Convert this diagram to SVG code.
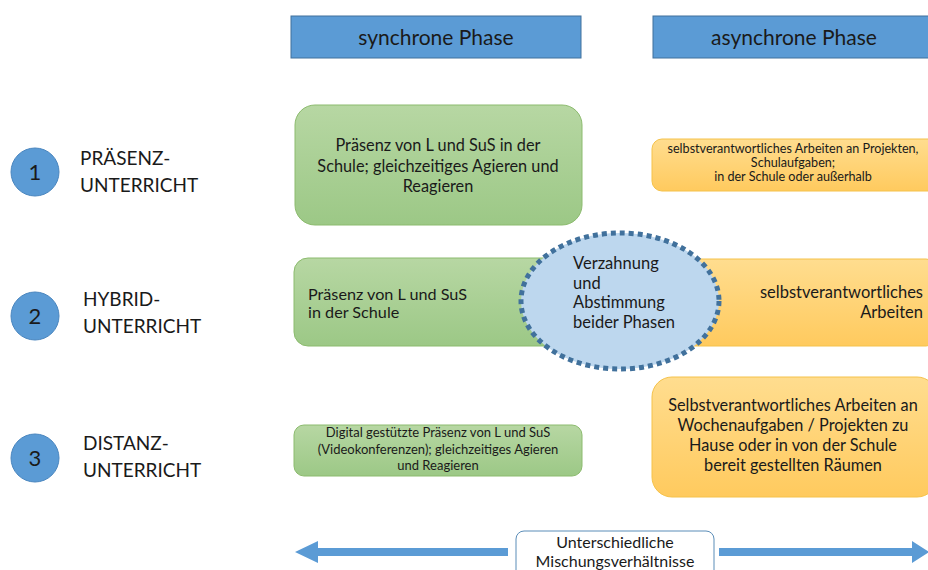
<svg xmlns="http://www.w3.org/2000/svg" width="928" height="570" viewBox="0 0 928 570">
<defs>
<linearGradient id="gG" x1="0" y1="0" x2="0" y2="1"><stop offset="0" stop-color="#B7D7A3"/><stop offset="1" stop-color="#9CC886"/></linearGradient>
<linearGradient id="gO" x1="0" y1="0" x2="0" y2="1"><stop offset="0" stop-color="#FFDD8F"/><stop offset="1" stop-color="#FFCA5E"/></linearGradient>
<style>
text{font-family:Lato,"Open Sans","Liberation Sans",sans-serif;fill:#1a1a1a}
.hdr{fill:#5B9BD5;stroke:#41719C;stroke-width:1}
.num{fill:#5B9BD5;stroke:#4A86BF;stroke-width:1}
.grn{fill:url(#gG);stroke:#8CBB6E;stroke-width:1}
.org{fill:url(#gO);stroke:#F5C24A;stroke-width:1}
.lbl{font-size:19px}
.c{text-anchor:middle}
.arr{fill:#5B9BD5}
</style>
</defs>
<g id="hdr-sync"><rect class="hdr" x="291" y="16" width="290" height="42"/><text class="c" x="436" y="45" font-size="21">synchrone Phase</text></g>
<g id="hdr-async"><rect class="hdr" x="653" y="16" width="280" height="42"/><text class="c" x="794" y="45" font-size="21">asynchrone Phase</text></g>

<g id="row1"><circle class="num" cx="35" cy="172" r="24"/><text class="c" x="35" y="180" font-size="22">1</text><text class="lbl" x="80" y="165">PRÄSENZ-</text><text class="lbl" x="80" y="192">UNTERRICHT</text></g>
<g id="row2"><circle class="num" cx="35" cy="316" r="24"/><text class="c" x="35" y="324" font-size="22">2</text><text class="lbl" x="83" y="306">HYBRID-</text><text class="lbl" x="83" y="333">UNTERRICHT</text></g>
<g id="row3"><circle class="num" cx="35" cy="458" r="24"/><text class="c" x="35" y="466" font-size="22">3</text><text class="lbl" x="83" y="450">DISTANZ-</text><text class="lbl" x="83" y="477">UNTERRICHT</text></g>

<g id="sync1"><rect class="grn" x="295" y="105" width="287" height="120" rx="20"/>
<text class="c" x="438" y="151" font-size="16.3">Präsenz von L und SuS in der</text>
<text class="c" x="438" y="172" font-size="16.3">Schule; gleichzeitiges Agieren und</text>
<text class="c" x="438" y="192" font-size="16.3">Reagieren</text></g>
<g id="async1"><rect class="org" x="652" y="139" width="290" height="52" rx="10"/>
<text class="c" x="793" y="153" font-size="12.6">selbstverantwortliches Arbeiten an Projekten,</text>
<text class="c" x="793" y="167" font-size="12.6">Schulaufgaben;</text>
<text class="c" x="793" y="181" font-size="12.6">in der Schule oder außerhalb</text></g>

<g id="sync2"><rect class="grn" x="294" y="258" width="290" height="88" rx="14"/>
<text x="308" y="300" font-size="16.2">Präsenz von L und SuS</text>
<text x="308" y="318" font-size="16.2">in der Schule</text></g>
<g id="async2"><rect class="org" x="640" y="259" width="300" height="87" rx="14"/>
<text x="923" y="298" font-size="16.5" text-anchor="end">selbstverantwortliches</text>
<text x="923" y="318" font-size="16.5" text-anchor="end">Arbeiten</text></g>
<g id="overlap"><ellipse cx="620" cy="301" rx="99" ry="68" fill="#BDD7EE" stroke="#41719C" stroke-width="5" stroke-dasharray="5 4"/>
<text x="573" y="269" font-size="16.5">Verzahnung</text>
<text x="573" y="289" font-size="16.5">und</text>
<text x="573" y="308" font-size="16.5">Abstimmung</text>
<text x="573" y="328" font-size="16.5">beider Phasen</text></g>

<g id="sync3"><rect class="grn" x="294" y="425" width="288" height="51" rx="10"/>
<text class="c" x="438" y="437" font-size="13">Digital gestützte Präsenz von L und SuS</text>
<text class="c" x="438" y="454" font-size="13">(Videokonferenzen); gleichzeitiges Agieren</text>
<text class="c" x="438" y="470" font-size="13">und Reagieren</text></g>
<g id="async3"><rect class="org" x="652" y="377" width="285" height="120" rx="20"/>
<text class="c" x="793" y="411" font-size="16.3">Selbstverantwortliches Arbeiten an</text>
<text class="c" x="793" y="431" font-size="16.3">Wochenaufgaben / Projekten zu</text>
<text class="c" x="793" y="451" font-size="16.3">Hause oder in von der Schule</text>
<text class="c" x="793" y="471" font-size="16.3">bereit gestellten Räumen</text></g>

<g id="connectors">
<path class="arr" d="M295 552 L318 541 L318 548 L508 548 L508 556 L318 556 L318 563 Z"/>
<path class="arr" d="M929 552 L912 541 L912 548 L719 548 L719 556 L912 556 L912 563 Z"/>
</g>
<g id="mix"><rect x="516" y="531" width="198" height="50" rx="8" fill="#fff" stroke="#5B8DB8" stroke-width="1"/>
<text class="c" x="615" y="548" font-size="16">Unterschiedliche</text>
<text class="c" x="615" y="567" font-size="16">Mischungsverhältnisse</text></g>
</svg>
